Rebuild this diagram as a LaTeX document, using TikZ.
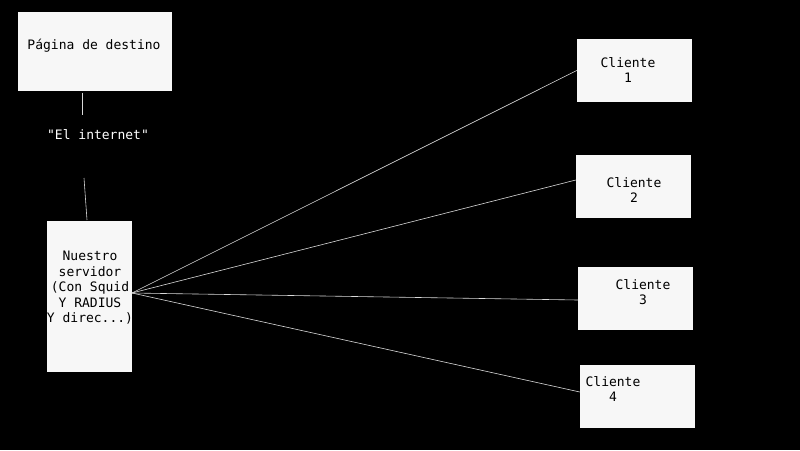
\documentclass[tikz,border=0pt]{standalone}
\usepackage{fontspec}
\setmonofont{DejaVu Sans Mono}
\begin{document}
\begin{tikzpicture}[x=1pt,y=-1pt,
  box/.style={draw=none,fill=white!97!black,inner sep=0},
  lbl/.style={font=\ttfamily\fontsize{13}{15.5}\selectfont,align=center,inner sep=0},
  wire/.style={draw=white!85!black,line width=0.6pt}]
\fill[black] (0,0) rectangle (800,450);
\useasboundingbox (0,0) rectangle (800,450);
\node[box,minimum width=154,minimum height=79] (dest) at (95,51.5) {};
\node[lbl] at (94,46) {Página de destino};
\node[lbl,text=white] (net) at (98,135) {"El internet"};
\node[box,minimum width=85,minimum height=151] (srv) at (89.5,296.5) {};
\node[lbl,text=black] at (90,288) {Nuestro\\servidor\\(Con Squid\\Y RADIUS\\Y direc...)};
\node[box,minimum width=115,minimum height=63] (c1) at (634.5,70.5) {};
\node[lbl] at (628,70) {Cliente\\1};
\node[box,minimum width=115,minimum height=63] (c2) at (633.5,186.5) {};
\node[lbl] at (634,190) {Cliente\\2};
\node[box,minimum width=115,minimum height=63] (c3) at (635.5,298.5) {};
\node[lbl] at (643,292) {Cliente\\3};
\node[box,minimum width=115,minimum height=63] (c4) at (637.5,396.5) {};
\node[lbl] at (613,389) {Cliente\\4};
\coordinate (hub) at (132,293);
\coordinate (d1) at (82,93); \coordinate (d2) at (82,115);
\coordinate (n1) at (84,178); \coordinate (n2) at (87,220);
\draw[wire] (d1) -- (d2);
\draw[wire] (n1) -- (n2);
\draw[wire] (hub) -- (c1.west);
\draw[wire] (hub) -- ([yshift=6.5]c2.west);
\draw[wire] (hub) -- ([yshift=-1.5]c3.west);
\draw[wire] (hub) -- ([yshift=4.5]c4.west);
\end{tikzpicture}
\end{document}
